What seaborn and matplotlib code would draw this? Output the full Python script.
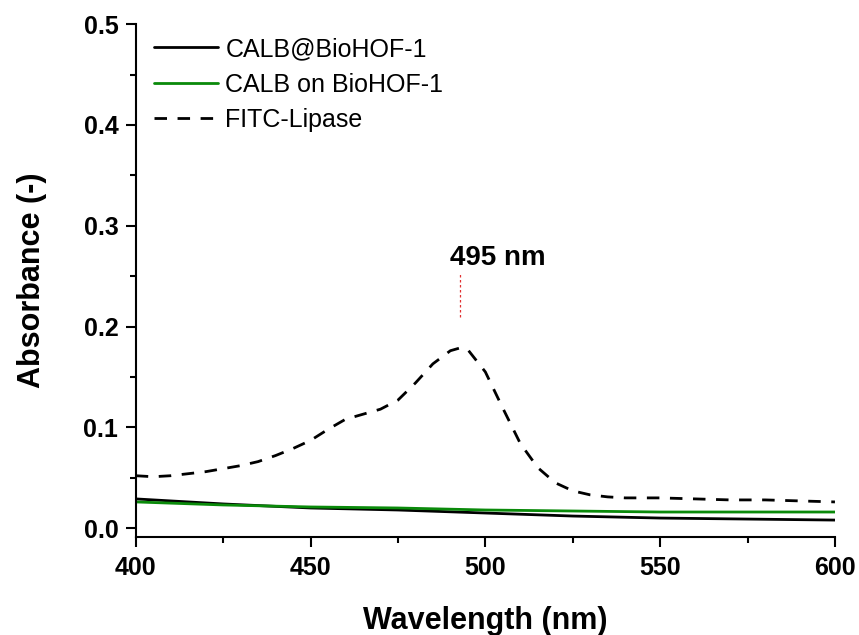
import numpy as np
import pandas as pd
import matplotlib
matplotlib.use("Agg")
import matplotlib.pyplot as plt
from matplotlib.ticker import MultipleLocator, AutoMinorLocator
import seaborn as sns

# UV-Vis absorbance spectra
wl_fitc = [400, 405, 410, 415, 420, 425, 430, 435, 440, 445, 450, 455, 460,
           465, 470, 475, 480, 485, 490, 493, 495, 500, 505, 510, 515, 520,
           525, 530, 535, 540, 550, 560, 570, 580, 590, 600]
abs_fitc = [0.052, 0.051, 0.052, 0.054, 0.056, 0.059, 0.062, 0.066, 0.072,
            0.079, 0.087, 0.098, 0.108, 0.113, 0.118, 0.127, 0.144, 0.163,
            0.176, 0.179, 0.177, 0.155, 0.119, 0.084, 0.060, 0.045, 0.037,
            0.033, 0.031, 0.030, 0.030, 0.029, 0.028, 0.028, 0.027, 0.026]

wl_calb = [400, 425, 450, 475, 500, 525, 550, 575, 600]
abs_calb_in = [0.029, 0.024, 0.020, 0.018, 0.015, 0.012, 0.010, 0.009, 0.008]
abs_calb_on = [0.026, 0.023, 0.021, 0.020, 0.018, 0.017, 0.016, 0.016, 0.016]

peak_nm = 492.7
peak_label = "495 nm"

sns.set_style("ticks")
plt.rcParams["font.family"] = ["Liberation Sans", "DejaVu Sans"]
plt.rcParams["text.color"] = "black"
plt.rcParams["axes.labelcolor"] = "black"
plt.rcParams["xtick.color"] = "black"
plt.rcParams["ytick.color"] = "black"

fig = plt.figure(figsize=(8.59, 6.35), dpi=100)
ax = fig.add_axes([0.158, 0.154, 0.814, 0.808])

df_in = pd.DataFrame({"wl": wl_calb, "a": abs_calb_in})
df_on = pd.DataFrame({"wl": wl_calb, "a": abs_calb_on})
df_fitc = pd.DataFrame({"wl": wl_fitc, "a": abs_fitc})

sns.lineplot(data=df_in, x="wl", y="a", ax=ax, color="black", lw=2.0,
             label="CALB@BioHOF-1")
sns.lineplot(data=df_on, x="wl", y="a", ax=ax, color="#0a8a0a", lw=2.0,
             label="CALB on BioHOF-1")
sns.lineplot(data=df_fitc, x="wl", y="a", ax=ax, color="black", lw=2.0,
             dashes=False, label="FITC-Lipase")
ax.lines[2].set_dashes((4.5, 3.8))

# peak marker
ax.plot([peak_nm, peak_nm], [0.209, 0.254], color="#e03030", lw=0.9,
        ls=(0, (2, 2)))
ax.text(489.8, 0.268, peak_label, ha="left", va="center", fontsize=20,
        fontweight="bold")

ax.set_xlim(400, 600)
ax.set_ylim(-0.009, 0.5)
ax.xaxis.set_major_locator(MultipleLocator(50))
ax.xaxis.set_minor_locator(AutoMinorLocator(2))
ax.yaxis.set_major_locator(MultipleLocator(0.1))
ax.yaxis.set_minor_locator(AutoMinorLocator(2))
ax.yaxis.set_major_formatter(plt.FormatStrFormatter("%.1f"))

for s in ["top", "right"]:
    ax.spines[s].set_visible(False)
for s in ["left", "bottom"]:
    ax.spines[s].set_linewidth(1.5)
    ax.spines[s].set_color("black")

ax.tick_params(axis="both", which="major", direction="out", length=7.5,
               width=1.5, labelsize=18, colors="black")
ax.tick_params(axis="both", which="minor", direction="out", length=4,
               width=1.5)
ax.tick_params(axis="y", which="major", pad=5)
ax.tick_params(axis="x", which="major", pad=6)
for lab in ax.get_xticklabels() + ax.get_yticklabels():
    lab.set_fontweight("bold")

ax.set_xlabel("Wavelength (nm)", fontsize=22, fontweight="bold", labelpad=19)
ax.set_ylabel("Absorbance (-)", fontsize=22, fontweight="bold", labelpad=26)

leg = ax.legend(loc="upper left", bbox_to_anchor=(0.012, 0.994), frameon=False,
                fontsize=18, handlelength=2.55, handletextpad=0.3,
                labelspacing=0.46, borderaxespad=0.0)

fig.savefig("out.png", dpi=100)
